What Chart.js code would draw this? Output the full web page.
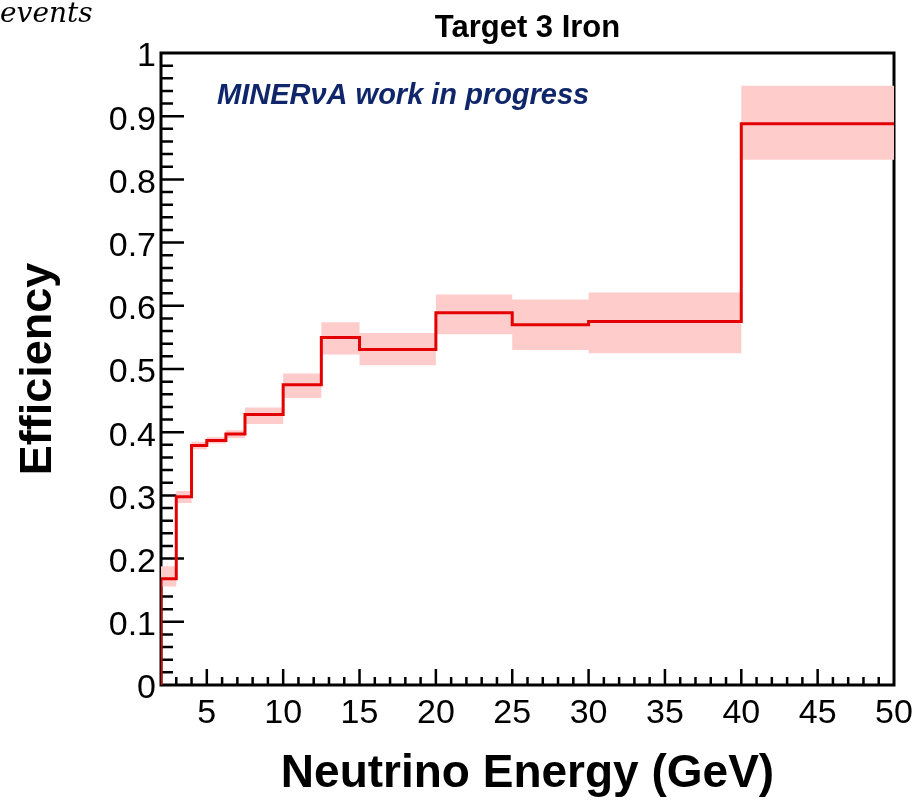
<!DOCTYPE html>
<html>
<head>
<meta charset="utf-8">
<title>Target 3 Iron</title>
<script src="https://cdn.jsdelivr.net/npm/chart.js@4.4.0/dist/chart.umd.min.js"></script>
<style>
  html, body { margin: 0; padding: 0; background: #fff; }
  canvas { display: block; }
</style>
</head>
<body>
<canvas id="eff" width="915" height="802"></canvas>
<script>
// neutrino energy bin edges (GeV)
const binEdges = [2, 3, 4, 5, 6.25, 7.5, 10, 12.5, 15, 20, 25, 30, 40, 50];
// efficiency per bin, with the lower/upper edge of its error band
const efficiency = [0.168, 0.298, 0.379, 0.387, 0.397, 0.428, 0.475, 0.550, 0.531, 0.589, 0.570, 0.575, 0.888];
const bandLow    = [0.156, 0.288, 0.373, 0.382, 0.391, 0.413, 0.454, 0.523, 0.506, 0.555, 0.530, 0.525, 0.831];
const bandHigh   = [0.188, 0.307, 0.385, 0.392, 0.403, 0.439, 0.493, 0.574, 0.557, 0.618, 0.610, 0.621, 0.948];

Chart.defaults.font.family = '"Liberation Sans", Arial, sans-serif';
Chart.defaults.color = '#000';

// one point per bin left edge plus the closing edge, drawn as a step line
function histPoints(values, fromZero) {
    const pts = fromZero ? [{x: binEdges[0], y: 0}] : [];
    values.forEach((v, i) => pts.push({x: binEdges[i], y: v}));
    pts.push({x: binEdges[binEdges.length - 1], y: values[values.length - 1]});
    return pts;
}

// ROOT style frame: box with ticks pointing into the plot
const rootFrame = {
    id: 'rootFrame',
    beforeDatasetsDraw(chart) {
        const {ctx, chartArea: a, scales: {x, y}} = chart;
        ctx.save();
        ctx.strokeStyle = '#000';
        ctx.lineWidth = 2.5;
        ctx.beginPath();
        for (let v = Math.ceil(x.min) + 1; v < x.max; v++) {
            const px = x.getPixelForValue(v);
            const len = v % 5 === 0 ? 16 : 8;
            ctx.moveTo(px, a.bottom);
            ctx.lineTo(px, a.bottom - len);
        }
        for (let k = 1; k < 50; k++) {
            const py = y.getPixelForValue(k * 0.02);
            const len = k % 5 === 0 ? 23 : 12;
            ctx.moveTo(a.left, py);
            ctx.lineTo(a.left + len, py);
        }
        ctx.stroke();
        ctx.lineWidth = 3;
        ctx.strokeRect(a.left, a.top, a.right - a.left, a.bottom - a.top);
        ctx.restore();
    }
};

const captions = {
    id: 'captions',
    afterDraw(chart) {
        const {ctx, chartArea: a} = chart;
        ctx.save();
        ctx.textBaseline = 'alphabetic';
        ctx.fillStyle = '#10266a';
        ctx.font = 'italic bold 29px "Liberation Sans", Arial, sans-serif';
        ctx.fillText('MINERνA work in progress', a.left + 56, a.top + 51);
        ctx.fillStyle = '#000';
        ctx.font = 'italic 28px "DejaVu Serif", serif';
        ctx.fillText('events', 0, 22);
        ctx.restore();
    }
};

new Chart(document.getElementById('eff'), {
    type: 'line',
    data: {
        datasets: [
            {
                label: 'Efficiency',
                data: histPoints(efficiency, true),
                stepped: 'before',
                borderColor: 'rgb(228, 0, 0)',
                borderWidth: 3,
                pointRadius: 0,
                fill: false
            },
            {
                label: 'band high',
                data: histPoints(bandHigh),
                stepped: 'before',
                borderColor: 'transparent',
                borderWidth: 0,
                pointRadius: 0,
                backgroundColor: 'rgb(255, 204, 204)',
                fill: '+1'
            },
            {
                label: 'band low',
                data: histPoints(bandLow),
                stepped: 'before',
                borderColor: 'transparent',
                borderWidth: 0,
                pointRadius: 0,
                fill: false
            }
        ]
    },
    options: {
        responsive: false,
        animation: false,
        devicePixelRatio: 1,
        layout: {padding: {left: 0, right: 21, top: 0, bottom: 0}},
        plugins: {
            legend: {display: false},
            tooltip: {enabled: false},
            title: {
                display: true,
                text: 'Target 3 Iron',
                fullSize: false,
                color: '#000',
                font: {size: 31, weight: 'bold'},
                padding: {top: 9.4, bottom: 6.4}
            }
        },
        scales: {
            x: {
                type: 'linear',
                min: 2,
                max: 50,
                grid: {display: false, drawTicks: false},
                border: {display: false},
                ticks: {stepSize: 5, includeBounds: false, padding: 8, maxRotation: 0, autoSkip: false, font: {size: 34}},
                title: {
                    display: true,
                    text: 'Neutrino Energy (GeV)',
                    font: {size: 46, weight: 'bold'},
                    padding: {top: 0, bottom: 0}
                },
                afterFit(scale) {
                    scale.height = 117;
                    scale.paddingLeft = 0;
                    scale.paddingRight = 0;
                }
            },
            y: {
                min: 0,
                max: 1,
                grid: {display: false, drawTicks: false},
                border: {display: false},
                ticks: {
                    stepSize: 0.1,
                    padding: 5,
                    labelOffset: 4,
                    font: {size: 34},
                    callback: value => String(+value.toFixed(2))
                },
                title: {
                    display: true,
                    text: 'Efficiency',
                    font: {size: 45, weight: 'bold'},
                    padding: {top: 12, bottom: 0}
                },
                afterFit(scale) {
                    scale.width = 161;
                    scale.paddingTop = 0;
                    scale.paddingBottom = 0;
                }
            }
        }
    },
    plugins: [rootFrame, captions]
});
</script>
</body>
</html>
